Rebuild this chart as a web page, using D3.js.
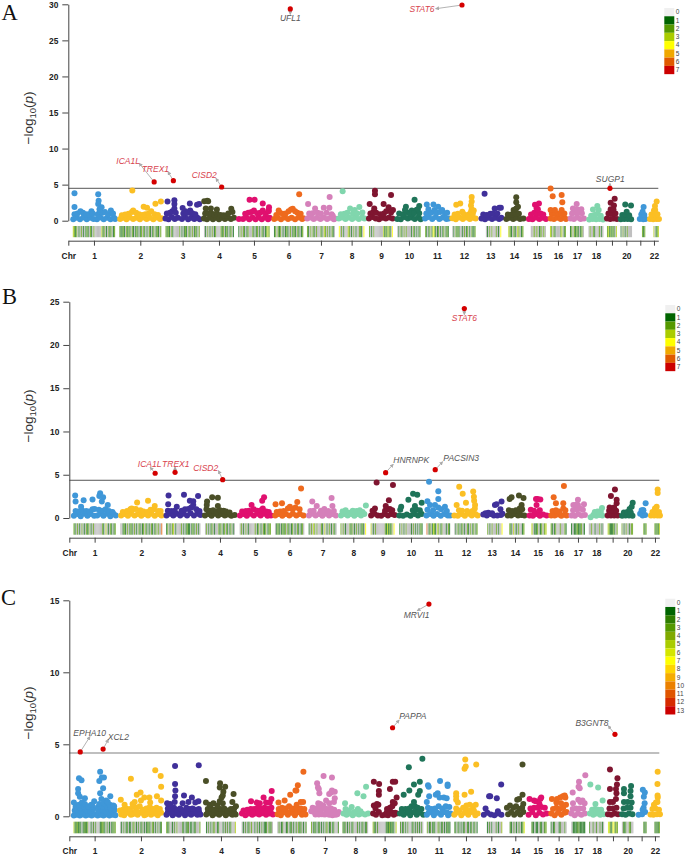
<!DOCTYPE html>
<html>
<head>
<meta charset="utf-8">
<script src="https://cdn.jsdelivr.net/npm/d3@7"></script>
<style>
  body { margin: 0; background: #fff; }
  text { font-family: "Liberation Sans", Arial, sans-serif; }
</style>
</head>
<body>
<div id="chart"></div>
<script>
// chromosome names, "" = tick without a label
var chrLabels = ["1","2","3","4","5","6","7","8","9","10","11","12","13","14","15","16","17","18","","20","","22"];
// span of each chromosome (Mb, covered by the data)
var chrLength = [254,252,206,180,188,176,168,154,144,140,142,140,132,114,108,96,84,90,60,69,60,60];
// chromosome midpoints on the genome axis (Mb)
var chrMidA = [154,432,686,904,1114,1322,1516,1700,1876,2044,2212,2374,2532,2674,2812,2938,3052,3166,3262,3348,3432,3514];
var chrMidB = [152,432,684,904,1116,1322,1520,1704,1880,2050,2214,2380,2534,2674,2810,2936,3052,3162,3260,3348,3434,3514];
var chrMidC = [152,430,684,910,1128,1336,1534,1716,1892,2054,2216,2380,2532,2676,2810,2936,3054,3164,3262,3350,3434,3514];

var chrColors = ["#3f97d8","#fbbf24","#40309a","#4a4f27","#e0106f","#ee6a1e","#d580ba","#80d6ad","#7f1530","#1f7459"];

// points per chromosome: flat list of position (% along chromosome), -log10(p)
var pointsA = [
  [1,.2,9,.4,17,.2,25,.45,33,.2,41,.4,49,.25,57,.2,65,.45,73,.2,81,.4,89,.2,97,.4,100,.25,4,.9,11,1,18,1.3,24,1.1,31,.9,38,.9,44,1.3,47,1,59,.9,64,1.3,70,1.1,76,1.2,84,.9,90,1.4,95,1,4,1.9,4,3.8,60,3.65,61,2.75,60,2.3,68,1.85,63,1.6],
  [2,.25,9,.4,17,.2,25,.45,33,.25,41,.4,49,.2,57,.45,65,.25,73,.4,81,.2,89,.45,97,.25,100,.35,6,.75,14,.85,22,.95,30,1.2,33,1.4,40,1.1,47,.9,55,.8,62,.9,70,1,76,1.3,84,.9,92,.8,31,4.17,58,1.95,66,1.8,86,2.35,99,2.65],
  [0,.3,9,.2,18,.5,27,.25,36,.4,48,.25,57,.5,66,.2,75,.4,84,.25,93,.4,100,.2,4,1,13,1.1,20,1.3,26,1.7,30,1.1,52,1,58,1.3,65,1.1,72,1.4,78,1.05,87,.9,6,2.65,26,2.85,26,2.3,71,2.4,50,1.75,92,2.2,98,2.3],
  [0,.3,10,.2,20,.45,30,.2,40,.4,50,.2,60,.4,70,.25,80,.4,90,.25,100,.4,4,1,14,1.05,25,1,34,.85,43,1,55,.8,66,.75,76,.7,95,1.2,1,2.7,11,2.75,6,1.7,23,1.7,43,1.55,91,1.65,81,1,14,2.7],
  [2,.25,15,.25,25,.45,35,.2,45,.45,55,.2,65,.45,75,.2,85,.45,95,.2,100,.4,22,.95,32,1.1,42,1.2,50,1.4,60,1.05,70,1.1,78,1.4,88,1,97,1.5,36,2.9,52,2.9,78,2.4,98,1.85,97,1.3],
  [1,.25,12,.4,24,.2,36,.45,48,.25,60,.4,72,.2,84,.45,96,.25,100,.35,8,.8,20,1.1,30,.95,40,1,50,1.3,58,1.55,64,1.65,72,1.3,80,1.1,91,.95,16,1.4,86,3.65],
  [1,.3,12,.45,24,.25,36,.4,48,.25,60,.45,72,.25,84,.4,96,.2,100,.3,8,1,20,1.05,29,1.7,38,1.1,50,1,60,1.8,70,1.1,80,1.8,88,.9,92,.7,4,2.3,81,3.3],
  [0,.3,13,.45,26,.25,39,.45,52,.25,65,.45,78,.25,91,.45,100,.3,8,.9,22,.95,33,1.1,44,1.7,55,1,62,1.5,72,1,80,1.9,92,1.15,15,4.1],
  [0,.3,14,.5,28,.3,42,.2,56,.4,70,.3,84,.45,98,.3,6,1,18,1.2,30,1.1,22,1.7,46,.9,62,1,72,1.3,82,1.85,92,1.15,100,1.5,25,4.15,25,3.65,3,2.3,61,2.3,92,3.55],
  [0,.25,15,.2,30,.5,45,.3,60,.45,75,.25,90,.45,100,.2,8,1,24,.85,37,1.95,40,1.2,52,1,62,1.4,72,1.05,82,1.5,94,1.05,94,2.05,74,2.9,33,1.5,88,1.6],
  [0,.3,15,.5,30,.25,45,.5,60,.25,75,.45,90,.25,100,.3,5,1,7,2.25,14,1.6,26,1.1,35,2.25,40,1.5,48,1.1,55,1.95,63,1.2,72,1.5,84,.95,93,1.1],
  [0,.35,15,.2,30,.45,45,.25,60,.45,75,.25,90,.4,100,.3,10,.85,24,.95,43,1.25,50,.9,70,.85,80,1.2,88,1,83,1.6,83,3.3,83,2.65,80,2.1,34,2.4,17,2.2,92,1.4],
  [10,.3,26,.2,42,.4,58,.25,74,.4,90,.25,100,.4,18,.85,34,.8,50,.95,62,1,70,1.7,82,1,91,1.8,98,1.8,24,3.75],
  [10,.25,28,.4,46,.25,64,.4,82,.25,100,.3,18,.85,38,.85,58,1,76,.95,48,1.5,62,1.7,62,2.55,62,3.25,71,1.95],
  [5,.25,25,.2,44,.45,63,.25,82,.4,100,.25,17,.85,35,1.1,50,1,70,1,85,.85,39,2.2,48,1.7,61,2.4,55,1.6],
  [4,.3,25,.25,46,.4,67,.25,88,.4,100,.25,12,.95,31,1,52,1,73,.95,90,1,4,1.5,31,1.5,73,1.5,77,2.55,73,3.55,17,3.4,4,4.45],
  [4,.3,28,.25,52,.45,76,.25,100,.3,15,1,38,1.1,62,1.1,85,1.05,21,1.7,48,2.3,81,1.6,48,1.6],
  [5,.15,28,.25,51,.2,74,.25,97,.15,18,.7,40,.8,60,.95,82,.7,30,1.55,68,1.5,59,2.05],
  [0,.3,33,.25,66,.3,100,.25,15,1,50,1,85,1,37,1.6,37,2.5,70,2.1,65,1.55,77,3.05],
  [2,.2,32,.25,62,.25,92,.2,15,.8,45,.85,75,.75,53,1.25,41,2.25,91,2.1],
  [45,.25,80,.2,100,.25,60,.85,90,.8,73,1.25,83,1.9],
  [10,.25,42,.2,75,.25,100,.25,25,.85,60,.85,85,.9,50,1.4,62,1.5,60,2.05,77,2.65]
];
var pointsB = [
  [1,.25,9,.45,17,.2,25,.5,33,.25,41,.45,49,.25,56,.3,63,.5,71,.25,79,.5,87,.2,95,.45,100,.3,5,.8,13,.75,20,.9,30,.8,37,.75,45,1,50,1.05,60,.95,68,.85,76,1,84,.8,92,.7,4,2.6,5,1.9,24,2.05,45,2.15,63,2.85,61,2.55,70,2.4,67,1.9,81,1.5,18,1.3],
  [2,.3,10,.45,18,.25,26,.5,34,.3,42,.45,50,.25,58,.45,66,.3,74,.5,82,.25,90,.45,98,.3,6,.7,16,.8,24,1,30,1,37,1.05,40,1.8,48,.9,55,.75,64,.7,72,.95,80,1,82,1.4,90,.8,96,.8,27,1.1,66,2],
  [1,.3,11,.5,21,.3,31,.5,41,.3,51,.5,61,.3,71,.55,81,.3,91,.5,100,.35,5,.85,15,.8,25,.85,31,1.3,6,1.6,7,2.6,45,.85,55,1,65,1.05,73,1.2,79,1.5,69,2,79,1.95,88,1,97,.8,52,2.7,93,2.55],
  [0,.3,11,.45,22,.25,33,.5,44,.3,55,.45,66,.3,77,.4,88,.25,99,.35,5,1,16,.85,27,.9,38,.75,50,.9,62,.85,70,.75,82,.65,6,1.5,7,1.9,24,2.4,43,2.35,43,1.4],
  [1,.3,12,.45,23,.25,34,.5,45,.3,56,.5,67,.3,78,.5,89,.25,100,.3,8,.75,20,.8,30,.85,38,1.5,45,1,56,.85,68,.9,74,1.1,84,.75,93,.7,78,2.4,72,2],
  [1,.3,13,.45,25,.25,37,.45,49,.3,61,.5,73,.3,85,.45,97,.3,6,.7,18,.75,30,.8,44,1.1,51,1.3,60,1,70,1.2,76,1.85,84,1,2,1.6,24,1.7,89,3.4],
  [1,.3,13,.5,25,.3,37,.45,49,.25,61,.5,73,.3,85,.45,97,.3,6,.8,18,.85,29,1.4,44,.85,56,1.05,70,.8,85,1.4,90,.8,13,1.9,82,2.3],
  [2,.3,15,.45,28,.3,41,.45,54,.25,67,.45,80,.3,93,.45,8,.75,20,.9,35,.6,48,.85,62,.8,75,.9,86,.7,99,1.45],
  [2,.3,16,.5,30,.3,44,.25,58,.45,72,.3,86,.45,100,.35,8,.85,18,1.1,60,.85,70,1,80,1.05,90,.9,63,1.4,76,2.05,25,4.1,93,3.8],
  [0,.3,16,.25,32,.4,48,.25,64,.45,80,.3,96,.45,4,.95,8,1.3,39,2.1,59,2.8,77,2.7,67,1.4,58,.9,74,.95,88,.9,96,1.75],
  [0,.3,15,.45,30,.25,45,.45,60,.25,75,.45,90,.3,100,.3,4,.95,4,1.95,15,1.5,28,.9,36,1.5,50,1.2,50,2.2,50,3.1,62,1,78,1.3,86,.8,11,4.2],
  [0,.3,15,.25,30,.45,45,.25,60,.5,75,.3,90,.45,100,.3,10,1.5,20,.9,33,.85,50,1.75,55,.8,78,.8,89,1.5,84,2.45,81,3.05,88,1.1,21,3.6,36,2.8,85,2],
  [12,.4,28,.3,44,.45,60,.3,76,.3,92,.35,99,.5,22,.55,35,.6,52,.55,65,1.5,72,1.6,90,1,95,1.9],
  [12,.3,30,.3,48,.45,66,.3,84,.35,100,.3,18,.9,35,.8,55,.9,72,.8,85,1.5,75,1.1,32,2.4,22,2.2,71,2.6,95,2.3,88,1],
  [5,.3,24,.25,43,.45,62,.25,81,.4,100,.3,12,.95,30,.85,44,1.5,62,.9,41,2.2,65,2.15,50,2.2],
  [4,.3,25,.3,46,.4,67,.25,88,.4,100,.3,12,.8,33,.9,33,1.7,55,.75,79,1.1,79,1.7,92,.9,19,2.4,83,3.7],
  [4,.3,28,.25,52,.45,76,.3,100,.35,15,.9,17,1.5,38,1,50,1.5,50,2.1,64,1.1,85,.95,93,1.6,40,1.55],
  [12,.1,30,.35,50,.25,70,.35,90,.3,40,.7,60,.75,80,.75,88,1.15],
  [0,.3,33,.3,66,.3,100,.3,15,.85,50,.85,85,.85,20,1.2,65,1.2,90,1.7,90,2.1,33,2.55,73,3.3],
  [5,.25,35,.3,65,.3,95,.25,20,.65,50,.7,80,.65,70,1.05,88,1.3,97,1.75],
  [35,.5,60,.3,85,.35,50,.9,65,.9,90,1.7,67,.9],
  [10,.3,42,.3,75,.3,100,.3,25,.7,60,.7,90,.7,50,1.1,67,1.3,77,3.3,77,2.9]
];
var pointsC = [
  [1,.05,8,.1,15,.05,22,.12,29,.06,36,.1,43,.05,50,.12,57,.06,64,.1,71,.05,78,.12,85,.06,92,.1,99,.07,5,.25,12,.2,20,.22,27,.25,35,.22,44,.25,58,.25,66,.22,74,.25,81,.2,88,.25,95,.22,3,.4,10,.45,18,.35,25,.5,33,.4,40,.35,47,.5,60,.4,68,.45,75,.35,82,.5,90,.4,97,.45,5,.65,16,.6,23,.7,30,.65,38,.6,45,.7,58,.65,70,.65,80,.7,88,.6,96,.7,1,.95,7,.75,13,.8,20,.95,27,.85,35,.7,42,.8,49,1.05,61,.85,66,1.2,72,.9,77,1.1,86,.8,94,.75,13,2.65,19,2.5,11,1.9,11,1.6,15,1.35,27,1.25,63,3.1,61,2.45,72,2.7,67,2.7,70,1.95,63,1.6,87,1.4,81,1],
  [3,.12,10,.08,18,.25,26,.1,34,.3,42,.1,50,.25,58,.08,66,.3,74,.1,82,.2,90,.08,98,.25,6,.28,14,.3,22,.3,30,.15,38,.3,46,.28,54,.3,62,.12,70,.3,78,.3,86,.28,94,.3,0,.4,7,.45,15,.55,24,.5,32,.7,39,.6,47,.7,55,.45,63,.55,71,.65,79,.5,87,.6,95,.5,2,1.15,11,.8,30,.85,35,1,40,1.5,49,1.65,50,1.1,58,1.3,70,1.3,72,.95,88,1.4,98,1.1,26,2.6,84,3.2,97,2.8,98,2.05],
  [1,.1,10,.25,19,.08,28,.2,37,.1,46,.25,55,.08,64,.2,73,.1,82,.22,91,.1,100,.12,5,.28,15,.3,24,.3,33,.25,42,.3,51,.28,60,.3,69,.28,78,.3,87,.25,96,.3,5,.55,14,.5,23,.6,32,.45,41,.55,50,.4,59,.6,68,.5,77,.55,86,.45,95,.5,3,.9,12,.85,25,1,26,1.4,27,1.8,26,2.25,26,3.5,48,.9,52,1.45,65,1,75,1.3,85,.95,94,1.05,95,3.55],
  [1,.12,11,.25,22,.08,33,.2,44,.1,55,.25,66,.08,77,.2,88,.1,99,.12,6,.25,17,.28,28,.25,39,.28,50,.25,61,.28,72,.22,83,.28,94,.25,6,.5,17,.55,28,.45,39,.6,50,.5,61,.55,72,.4,83,.5,94,.55,0,.95,12,.8,25,.9,38,.75,46,1.05,52,1.3,56,.9,58,1.7,46,2,47,2.3,64,2.05,56,1.45,88,1,92,1.55,100,.7,0,2.45],
  [1,.2,12,.08,23,.2,34,.1,45,.2,56,.12,67,.22,78,.1,89,.2,100,.12,6,.4,18,.45,29,.5,40,.5,51,.6,62,.55,73,.6,84,.55,95,.6,35,.3,55,.32,68,.35,80,.32,92,.35,30,1.05,48,.95,58,.9,70,1.3,78,.95,90,.95,95,1.2,96,1.75],
  [1,.15,12,.08,24,.3,36,.1,48,.25,60,.08,72,.3,84,.1,96,.12,7,.3,18,.28,30,.25,42,.3,54,.28,66,.25,78,.28,90,.3,5,.5,16,.6,28,.55,40,.7,52,.55,66,.6,80,.55,92,.5,4,.95,25,1.1,44,1.5,66,.8,80,1,88,1,62,1.8,65,1.8,70,2.15,89,3.1],
  [1,.35,11,.3,22,.25,33,.4,44,.15,55,.35,66,.1,77,.08,88,.1,99,.3,16,.12,28,.12,38,.15,50,.12,60,.15,72,.25,83,.25,94,.15,6,.6,17,.55,28,.65,39,.6,50,.55,61,.5,72,.55,83,.45,26,.9,33,.85,44,.75,54,1.1,65,.9,82,1,85,1.25,85,1.7,65,1.55,72,1.65,75,1.8,28,1.9,25,2,45,2.8,75,2.7,22,2.3,30,1.6],
  [4,.2,16,.1,28,.2,40,.08,52,.2,64,.12,76,.2,88,.12,100,.2,12,.5,25,.4,36,.65,46,.3,60,.5,70,.35,10,.9,58,1.6,82,1.4,92,2.05],
  [2,.2,14,.1,26,.3,40,.08,52,.1,64,.08,76,.3,88,.1,100,.2,58,.25,70,.25,82,.25,94,.25,12,.55,24,.8,18,.85,60,.5,72,.6,82,.7,92,.9,100,1.3,84,1,5,.75,26,1.5,26,1.75,5,2.4,27,2.25,72,1.9,84,2.4,94,2.4],
  [0,.2,16,.1,30,.25,44,.08,58,.3,72,.1,86,.25,100,.1,8,.5,24,.5,40,.55,50,.7,64,.7,76,.6,92,.5,8,.25,36,.3,66,.3,80,.3,16,1.5,40,1.8,60,1,60,2.2,78,1.5,85,1.75,85,2.4,38,3.4,96,4],
  [0,.1,15,.3,30,.08,45,.25,60,.1,75,.3,90,.08,100,.2,5,.6,20,.5,35,.55,50,.7,65,.55,80,.7,95,.65,8,.25,38,.3,68,.3,84,.28,0,1,10,1.4,5,2.15,8,2.05,38,1.5,46,1.6,54,1.3,72,1.3,84,1.25,88,2.1,88,2.2,56,2.45],
  [0,.1,15,.3,30,.08,45,.25,60,.1,75,.3,90,.08,100,.2,8,.55,22,.4,38,.6,52,.75,66,.8,80,.7,92,.8,8,.25,52,.4,68,.4,84,.4,8,1.6,8,1.15,8,1.4,44,1.5,72,1.7,15,.95,44,3.3,47,3.95,49,3.45,94,3.6],
  [16,.1,32,.25,48,.12,64,.08,80,.2,96,.1,24,.55,80,.35,45,1.4,40,1.4,75,1.25,95,2.2],
  [12,.15,28,.3,44,.1,60,.25,76,.12,92,.3,6,.6,22,.75,40,.6,54,.7,70,.5,86,.6,92,.85,60,1.15,70,1.2,88,1.5,88,3.6],
  [0,.1,20,.3,40,.08,60,.25,80,.12,100,.2,10,.55,30,.6,50,.6,70,.65,90,.6,5,1.2,30,1.1,40,1.05,60,.85,65,1.2,70,1.3],
  [4,.2,25,.08,46,.25,67,.1,88,.25,100,.3,15,.5,36,.6,58,.5,78,.6,96,.8,8,1.2,36,.95,40,1.2,60,1.3,76,1.4,88,1.45,92,1.3,65,.9],
  [0,.2,24,.08,48,.2,72,.1,96,.2,10,.5,34,.55,60,.55,85,.55,12,.9,50,1.15,65,1,80,1.1,95,.9,10,1.65,52,2.05,60,1.95,55,2.4,100,2.85],
  [5,.2,28,.1,51,.2,74,.1,97,.15,20,.45,40,.5,60,.45,80,.45,42,.85,90,1.1,8,2.2,60,2],
  [0,.15,33,.1,66,.2,100,.15,15,.55,50,.55,85,.6,20,1,50,1,80,1.2,85,1.6,80,1.9,90,2.2,95,2.65,20,1.9,20,3.25],
  [2,.15,32,.1,62,.2,92,.15,15,.55,45,.6,75,.6,18,1,50,1,85,.95,75,1.4,18,1.6,18,1.9,75,1.75,80,2.1],
  [20,.1,55,.15,85,.3,70,.6,80,.9,60,.45,72,1.35,82,1.65,62,1.85],
  [5,.12,35,.1,70,.15,100,.15,25,.5,55,.55,90,.45,40,.8,60,.95,75,1,78,1.3,76,1.45,75,2.25,77,3.1]
];

// significant genes: chromosome index, position %, -log10(p), name, 1 = red label
var hitChrA = [5,11,1,2,3,18];
var hitPosA = [55.6,41.5,83,23,59,30];
var hitValA = [29.36,29.9,5.37,5.55,4.67,4.49];
var hitGeneA = ["UFL1","STAT6","ICA1L","TREX1","CISD2","SUGP1"];
var hitRedA = [0,1,1,1,1,0];
var hitChrB = [11,1,2,3,8,10];
var hitPosB = [43,83,26,59,62.5,37];
var hitValB = [24.2,5.17,5.28,4.43,5.24,5.58];
var hitGeneB = ["STAT6","ICA1L","TREX1","CISD2","HNRNPK","PACSIN3"];
var hitRedB = [1,1,1,1,0,0];
var hitChrC = [10,8,18,0,0];
var hitPosC = [9,83,70,16,70];
var hitValC = [14.74,6.15,5.69,4.47,4.67];
var hitGeneC = ["MRVI1","PAPPA","B3GNT8","EPHA10","XCL2"];
var hitRedC = [0,0,0,0,0];

// SNP density per chromosome, one digit per bin, "." = no data
var densityA = ["3212010201012102102000000312010212012","2112102121021012101202101021012012102","212102100000201012102102012102","010201020120000212012101201","102021012000210120102101232","120212010121020121021012","2102021020002103202010210","40201000320102010022104","2010200000000312132104","0102102020000102101012","2101201431012010120121","0102121001020120102112","......01020200020104","...321021032012","..00202012020","32021000023012","12021210120","0200210002010","231212103","10201020000","......212","....30123"];
var densityB = ["2102010201021201020000000210301021012","0012102012102010210120210102101202006","120102301000020101211012102010","020101201000212012021012010","020102010000020120102120122","012101212021012010210120","1020320200021030102010210","20201000212010201012104","3010200000000213121204","1020102000010201010121","6012013210320120001021","0102101201002102012012","......20102000201004","...210301020012","..30112012023","21012000200021","1011211201","0020010002010","321112102","20102001022","......212","....21213"];
var densityC = ["5123121012213001020200012321020101223","0102012011023010201201012210320102012","312001020300002101220110120003","102010230012000102020120005","010201203001020102011203120","020120012012010203120102","3012101201010230120120002","21201020120002010120120","4210200000001213121105","2012010200012010201020","3012012100320120101211","2102101012002101201201","......10201000201004","...210201020126","..21011021023","10120001200020","0111221111","2002002002010","652167143","0212003200","......212","....21213"];

var legendColorsAB = ["#f0f0f0","#006400","#559900","#aacc00","#ffff00","#f0a800","#e05a00","#cc0000"];
var legendColorsC = ["#f0f0f0","#006400","#2e7d00","#559900","#80aa00","#aacc00","#d4e600","#ffff00","#ffd500","#f5ac00","#eb8000","#e05500","#d62b00","#cc0000"];

var svg = d3.select("#chart").append("svg").attr("width", 685).attr("height", 857);

// label placement relative to the hit dot: text dx,dy then arrow end dx,dy
var labelPlace = {
  A: { UFL1:[0,9.3,0,5.5], STAT6:[-40,4.3,-26.3,3.7], ICA1L:[-26,-21.3,-15,-18.7], TREX1:[-18,-11.7,-5.4,-9], CISD2:[-17.4,-11.7,-5.7,-8.7], SUGP1:[0.3,-9.3,0,-5] },
  B: { STAT6:[0,9.6,0,6], ICA1L:[-5.5,-9.6,-5,-6], TREX1:[0.7,-8.6,0,-5.5], CISD2:[-17,-12,-4.2,-9], HNRNPK:[25.6,-12.4,7.6,-8.4], PACSIN3:[26,-12,7.4,-8] },
  C: { MRVI1:[-12.3,10.7,-11.7,6.7], PAPPA:[20.3,-12,6.6,-7.7], B3GNT8:[-23,-11.6,-6.7,-8.6], EPHA10:[9.4,-18.7,9.7,-15.3], XCL2:[15.3,-12,5.3,-9.7] }
};

var defs = svg.append("defs");
defs.append("marker")
  .attr("id", "arrow")
  .attr("viewBox", "0 0 6 6")
  .attr("refX", 5).attr("refY", 3)
  .attr("markerWidth", 4).attr("markerHeight", 4)
  .attr("markerUnits", "userSpaceOnUse")
  .attr("orient", "auto")
  .append("path")
  .attr("d", "M0,0L6,3L0,6Z")
  .attr("fill", "#aaa");

function drawPanel(p) {
  var g = svg.append("g");

  var x = d3.scaleLinear().domain([0, 3540]).range([p.left, p.left + 590]);
  var y = d3.scaleLinear().domain([0, p.yMax]).range([p.y0, p.yTop]);

  function genomeX(chr, pct) {
    return x(p.mids[chr] - chrLength[chr] / 2 + pct / 100 * chrLength[chr]);
  }

  // density strip under the points, a bit washed out like the source
  var strip = g.append("g").attr("opacity", 0.72);
  p.density.forEach(function (bins, chr) {
    var width = (x(chrLength[chr]) - x(0)) / bins.length;
    strip.selectAll(null)
      .data(bins.split("").map(function (b, i) { return { b: b, i: i }; }).filter(function (d) { return d.b !== "."; }))
      .enter()
      .append("rect")
      .attr("x", function (d) { return genomeX(chr, 0) + d.i * width; })
      .attr("y", p.stripTop)
      .attr("width", width)
      .attr("height", p.stripH)
      .attr("fill", function (d) {
        var level = parseInt(d.b, 16);
        return level === 0 ? "#a8a8a8" : p.legend[level];
      });
  });

  // threshold
  g.append("line")
    .attr("x1", p.left).attr("x2", p.left + 590)
    .attr("y1", y(p.threshold)).attr("y2", y(p.threshold))
    .attr("stroke", p.thColor)
    .attr("stroke-width", p.thWidth);

  // points
  p.points.forEach(function (vals, chr) {
    var pts = [];
    for (var i = 0; i < vals.length; i += 2) pts.push([vals[i], vals[i + 1]]);
    g.append("g").selectAll("circle")
      .data(pts)
      .enter()
      .append("circle")
      .attr("cx", function (d) { return genomeX(chr, d[0]); })
      .attr("cy", function (d) { return y(d[1]); })
      .attr("r", 3)
      .attr("fill", chrColors[chr % 10]);
  });

  // significant genes
  p.hitGene.forEach(function (gene, i) {
    var cx = genomeX(p.hitChr[i], p.hitPos[i]);
    var cy = y(p.hitVal[i]);
    var place = labelPlace[p.name][gene];
    g.append("line")
      .attr("x1", cx).attr("y1", cy)
      .attr("x2", cx + place[2]).attr("y2", cy + place[3])
      .attr("stroke", "#aaa").attr("stroke-width", 0.9)
      .attr("marker-end", "url(#arrow)");
    g.append("circle")
      .attr("cx", cx).attr("cy", cy).attr("r", 2.6)
      .attr("fill", "#d40000");
    g.append("text")
      .attr("x", cx + place[0]).attr("y", cy + place[1])
      .attr("dy", "0.35em")
      .attr("text-anchor", "middle")
      .attr("font-size", 8.5)
      .attr("font-style", "italic")
      .attr("fill", p.hitRed[i] ? "#d8434e" : "#555")
      .text(gene);
  });

  // y axis
  var yAxis = g.append("g")
    .attr("transform", "translate(" + p.left + ",0)")
    .call(d3.axisLeft(y).tickValues(p.yTicks).tickSize(6).tickSizeOuter(0).tickPadding(4));
  // x axis
  var xAxis = g.append("g")
    .attr("transform", "translate(0," + p.axisY + ")")
    .call(d3.axisBottom(x)
      .tickValues([0].concat(p.mids))
      .tickFormat(function (d, i) { return i === 0 ? "Chr" : chrLabels[i - 1]; })
      .tickSize(5).tickSizeOuter(0).tickPadding(7));
  [yAxis, xAxis].forEach(function (a) {
    a.selectAll("path,line").attr("stroke", "#444");
    a.selectAll("text")
      .attr("font-size", 8.4).attr("font-weight", "bold")
      .attr("font-family", "Liberation Sans").attr("fill", "#222");
  });

  // y label
  var label = g.append("text")
    .attr("transform", "translate(33," + p.labelY + ") rotate(-90)")
    .attr("text-anchor", "middle")
    .attr("font-size", 13.5)
    .attr("fill", "#333");
  label.append("tspan").text("\u2212log");
  label.append("tspan").attr("font-size", 9.5).attr("dy", 3).text("10");
  label.append("tspan").attr("dy", -3).text("(");
  label.append("tspan").attr("font-style", "italic").text("p");
  label.append("tspan").text(")");

  // panel letter
  g.append("text")
    .attr("x", p.letterX).attr("y", p.letterY)
    .attr("font-size", 22.5)
    .style("font-family", "'Liberation Serif', serif")
    .attr("fill", "#111")
    .text(p.name);

  // legend
  var cell = 8.27;
  var legend = g.append("g");
  legend.selectAll("rect")
    .data(p.legend)
    .enter()
    .append("rect")
    .attr("x", p.legendX)
    .attr("y", function (d, i) { return p.legendY + i * cell; })
    .attr("width", 10)
    .attr("height", cell)
    .attr("fill", function (d) { return d; });
  legend.selectAll("text")
    .data(p.legend)
    .enter()
    .append("text")
    .attr("x", p.legendX + 11.5)
    .attr("y", function (d, i) { return p.legendY + (i + 0.5) * cell; })
    .attr("dy", "0.35em")
    .attr("font-size", 6.5)
    .attr("fill", "#444")
    .text(function (d, i) { return i; });
}

drawPanel({ name: "A", left: 68.3, y0: 220.7, yTop: 4.3, yMax: 30, yTicks: [0,5,10,15,20,25,30], threshold: 4.49, thColor: "#555", thWidth: 1,
  axisY: 240.7, stripTop: 226, stripH: 11.2, labelY: 118, letterX: 1.5, letterY: 20, legendX: 664.3, legendY: 8, legend: legendColorsAB,
  mids: chrMidA, points: pointsA, density: densityA, hitChr: hitChrA, hitPos: hitPosA, hitVal: hitValA, hitGene: hitGeneA, hitRed: hitRedA });
drawPanel({ name: "B", left: 69.3, y0: 518, yTop: 301.7, yMax: 25, yTicks: [0,5,10,15,20,25], threshold: 4.36, thColor: "#555", thWidth: 1,
  axisY: 537.7, stripTop: 523.3, stripH: 11.4, labelY: 416, letterX: 2, letterY: 304, legendX: 665.3, legendY: 305, legend: legendColorsAB,
  mids: chrMidB, points: pointsB, density: densityB, hitChr: hitChrB, hitPos: hitPosB, hitVal: hitValB, hitGene: hitGeneB, hitRed: hitRedB });
drawPanel({ name: "C", left: 69.3, y0: 816.3, yTop: 600.3, yMax: 15, yTicks: [0,5,10,15], threshold: 4.4, thColor: "#aaa", thWidth: 1.5,
  axisY: 836.3, stripTop: 821.7, stripH: 11.6, labelY: 713, letterX: 1, letterY: 605, legendX: 665.3, legendY: 598.7, legend: legendColorsC,
  mids: chrMidC, points: pointsC, density: densityC, hitChr: hitChrC, hitPos: hitPosC, hitVal: hitValC, hitGene: hitGeneC, hitRed: hitRedC });
</script>
</body>
</html>
